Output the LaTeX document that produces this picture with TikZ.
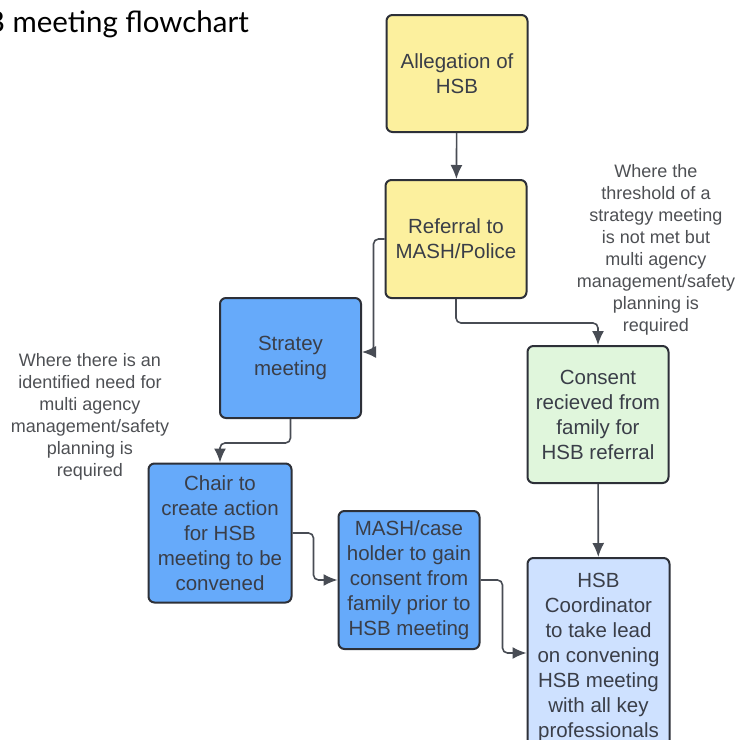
\documentclass[tikz,border=0pt]{standalone}
\usepackage{fontspec}
\setmainfont{Liberation Sans}
\newfontfamily\titlefont{Lato}
\usepackage{tikz}
\usetikzlibrary{arrows.meta}
\definecolor{hsbyellow}{RGB}{252,240,158}
\definecolor{hsbblue}{RGB}{102,170,250}
\definecolor{hsbgreen}{RGB}{224,246,220}
\definecolor{hsblight}{RGB}{206,225,255}
\definecolor{boxline}{RGB}{45,48,56}
\definecolor{boxtext}{RGB}{58,62,72}
\definecolor{notetext}{RGB}{78,80,84}
\definecolor{linkgrey}{RGB}{72,76,84}
\begin{document}
\begin{tikzpicture}[x=1pt,y=-1pt,
  box/.style={draw=boxline, line width=2pt, rounded corners=6pt, text=boxtext,
    align=center, inner sep=0pt, minimum width=141pt,
    font=\fontsize{20.5}{25}\selectfont},
  note/.style={text=notetext, align=center, inner sep=0pt,
    font=\fontsize{18}{22}\selectfont},
  link/.style={draw=linkgrey, line width=1.6pt, rounded corners=5pt,
    -{Latex[length=14pt,width=12pt]}}]
\useasboundingbox (0,0) rectangle (739,740);
\clip (0,0) rectangle (739,740);
\fill [white] (0,0) rectangle (739,740);
\node [anchor=base east, inner sep=0pt, font=\titlefont\fontsize{29.5}{34}\selectfont] (title) at (249,32) {HSB meeting flowchart};
\node [box, fill=hsbyellow, minimum height=117pt] (alleg) at (457,73.5) {Allegation of\\HSB};
\node [box, fill=hsbyellow, minimum height=118pt] (refer) at (456,239) {Referral to\\MASH/Police};
\node [box, fill=hsbblue, minimum height=120pt] (strat) at (290.5,358) {Stratey\\meeting};
\node [box, fill=hsbblue, minimum width=143pt, minimum height=139pt] (chair) at (220,533) {Chair to\\create action\\for HSB\\meeting to be\\convened};
\node [box, fill=hsbblue, minimum height=138pt] (mash) at (409,580) {MASH/case\\holder to gain\\consent from\\family prior to\\HSB meeting};
\node [box, fill=hsbgreen, minimum height=137pt] (consent) at (598,414.5) {Consent\\recieved from\\family for\\HSB referral};
\node [box, fill=hsblight, minimum width=142pt, minimum height=198pt] (coord) at (598.5,657) {HSB\\Coordinator\\to take lead\\on convening\\HSB meeting\\with all key\\professionals};
\node [note] (noteR) at (656,250) {Where the\\threshold of a\\strategy meeting\\is not met but\\multi agency\\management/safety\\planning is\\required};
\node [note] (noteL) at (90,417) {Where there is an\\identified need for\\multi agency\\management/safety\\planning is\\required};
\draw [link] (alleg) -- (refer);
\draw [link] (refer.west) -- ++(-11,0) |- ([yshift=6pt]strat.east);
\draw [link] (refer.south) -- ++(0,24) -| (consent.north);
\draw [link] (strat.south) -- ++(0,24) -| (chair.north);
\draw [link] (chair.east) -- ++(21,0) |- (mash.west);
\draw [link] (mash.east) -- ++(22,0) |- ([yshift=4pt]coord.west);
\draw [link] (consent) -- (coord);
\end{tikzpicture}
\end{document}
